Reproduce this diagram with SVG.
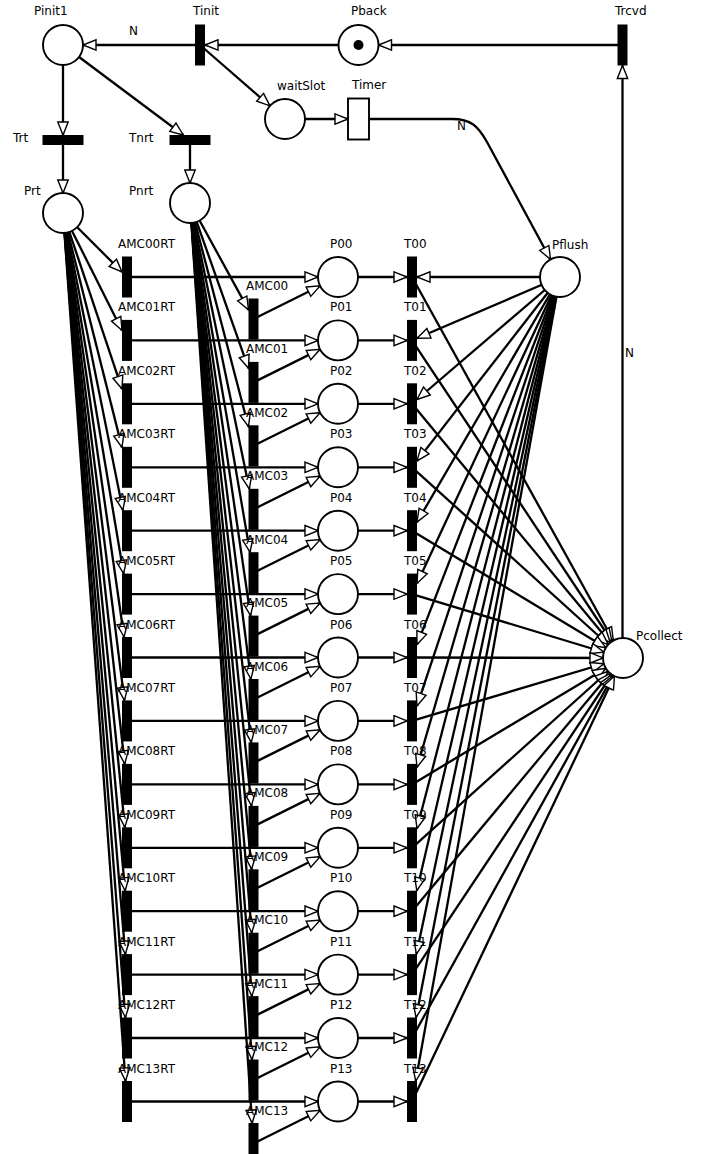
<svg xmlns="http://www.w3.org/2000/svg" width="711" height="1154" viewBox="0 0 711 1154">
<style>
.arc{stroke:#000;stroke-width:2.3;fill:none}
.a{marker-end:url(#tip)}
.c{marker-end:url(#circ)}
.pl{fill:#fff;stroke:#000;stroke-width:1.9}
.tr{fill:#000}
.tm{fill:#fff;stroke:#000;stroke-width:1.9}
text{font-family:"DejaVu Sans","Liberation Sans",sans-serif;font-size:12px;fill:#000}
</style>
<defs>
<marker id="tip" markerUnits="userSpaceOnUse" viewBox="0 0 16 14" markerWidth="16" markerHeight="14" refX="14.5" refY="7" orient="auto" overflow="visible">
<path d="M1.5,1.8 L14.5,7 L1.5,12.2 Z" fill="#fff" stroke="#000" stroke-width="1.4"/>
</marker>
<marker id="circ" markerUnits="userSpaceOnUse" viewBox="0 0 36 14" markerWidth="36" markerHeight="14" refX="34.5" refY="7" orient="auto" overflow="visible">
<path d="M1.5,1.8 L14.5,7 L1.5,12.2 Z" fill="#fff" stroke="#000" stroke-width="1.4"/>
</marker>
</defs>
<rect x="0" y="0" width="711" height="1154" fill="#fff"/>
<g id="connectors" class="arc">
<line class="c" x1="200" y1="45" x2="63" y2="45"/>
<line class="a" x1="358.5" y1="45" x2="205" y2="45"/>
<line class="c" x1="622.5" y1="45" x2="358.5" y2="45"/>
<line class="c" x1="200" y1="45" x2="285" y2="119"/>
<line class="a" x1="285" y1="119" x2="348" y2="119"/>
<path class="c" d="M358.5,119 H452 C471,119 478,126 487,142 L560,277"/>
<line class="a" x1="63" y1="45" x2="63" y2="135"/>
<line class="a" x1="63" y1="45" x2="183.3" y2="135"/>
<line class="c" x1="63" y1="140" x2="63" y2="213"/>
<line class="c" x1="190" y1="140" x2="190" y2="203"/>
<line class="a" x1="622.5" y1="658" x2="622.5" y2="65.5"/>
<line class="a" x1="560" y1="277" x2="417" y2="277"/>
<line class="a" x1="560" y1="277" x2="417" y2="338.3"/>
<line class="a" x1="560" y1="277" x2="417" y2="399.5"/>
<line class="a" x1="560" y1="277" x2="417" y2="460.9"/>
<line class="a" x1="560" y1="277" x2="417" y2="522.1"/>
<line class="a" x1="560" y1="277" x2="417" y2="583.4"/>
<line class="a" x1="560" y1="277" x2="417" y2="644.6"/>
<line class="a" x1="560" y1="277" x2="417" y2="705.9"/>
<line class="a" x1="560" y1="277" x2="417" y2="767.3"/>
<line class="a" x1="560" y1="277" x2="417" y2="828.5"/>
<line class="a" x1="560" y1="277" x2="416.8" y2="890.7"/>
<line class="a" x1="560" y1="277" x2="416.4" y2="954.1"/>
<line class="a" x1="560" y1="277" x2="416" y2="1017.5"/>
<line class="a" x1="560" y1="277" x2="415.7" y2="1081"/>
<line class="c" x1="412" y1="277" x2="623" y2="658"/>
<line class="c" x1="412" y1="340.4" x2="623" y2="658"/>
<line class="c" x1="412" y1="403.8" x2="623" y2="658"/>
<line class="c" x1="412" y1="467.3" x2="623" y2="658"/>
<line class="c" x1="412" y1="530.7" x2="623" y2="658"/>
<line class="c" x1="412" y1="594.1" x2="623" y2="658"/>
<line class="c" x1="412" y1="657.5" x2="623" y2="658"/>
<line class="c" x1="412" y1="720.9" x2="623" y2="658"/>
<line class="c" x1="412" y1="784.4" x2="623" y2="658"/>
<line class="c" x1="412" y1="847.8" x2="623" y2="658"/>
<line class="c" x1="412" y1="911.2" x2="623" y2="658"/>
<line class="c" x1="412" y1="974.6" x2="623" y2="658"/>
<line class="c" x1="412" y1="1038" x2="623" y2="658"/>
<line class="c" x1="412" y1="1101.5" x2="623" y2="658"/>
<line class="a" x1="63" y1="213" x2="122" y2="272"/>
<line class="a" x1="63" y1="213" x2="122" y2="330.4"/>
<line class="a" x1="63" y1="213" x2="122" y2="388.9"/>
<line class="a" x1="63" y1="213" x2="122" y2="447.4"/>
<line class="a" x1="63" y1="213" x2="122.9" y2="510.2"/>
<line class="a" x1="63" y1="213" x2="123.6" y2="573.6"/>
<line class="a" x1="63" y1="213" x2="124.1" y2="637"/>
<line class="a" x1="63" y1="213" x2="124.4" y2="700.4"/>
<line class="a" x1="63" y1="213" x2="124.7" y2="763.9"/>
<line class="a" x1="63" y1="213" x2="124.9" y2="827.3"/>
<line class="a" x1="63" y1="213" x2="125.1" y2="890.7"/>
<line class="a" x1="63" y1="213" x2="125.3" y2="954.1"/>
<line class="a" x1="63" y1="213" x2="125.4" y2="1017.5"/>
<line class="a" x1="63" y1="213" x2="125.5" y2="1081"/>
<line class="a" x1="190" y1="203" x2="248.5" y2="309.9"/>
<line class="a" x1="190" y1="203" x2="248.5" y2="368.3"/>
<line class="a" x1="190" y1="203" x2="248.5" y2="426.7"/>
<line class="a" x1="190" y1="203" x2="249.3" y2="488.8"/>
<line class="a" x1="190" y1="203" x2="250" y2="552.2"/>
<line class="a" x1="190" y1="203" x2="250.5" y2="615.6"/>
<line class="a" x1="190" y1="203" x2="250.9" y2="679"/>
<line class="a" x1="190" y1="203" x2="251.2" y2="742.4"/>
<line class="a" x1="190" y1="203" x2="251.4" y2="805.9"/>
<line class="a" x1="190" y1="203" x2="251.6" y2="869.3"/>
<line class="a" x1="190" y1="203" x2="251.8" y2="932.7"/>
<line class="a" x1="190" y1="203" x2="251.9" y2="996.1"/>
<line class="a" x1="190" y1="203" x2="252" y2="1059.5"/>
<line class="a" x1="190" y1="203" x2="252.1" y2="1123"/>
<line class="c" x1="127" y1="277" x2="338" y2="277"/>
<line class="c" x1="127" y1="340.4" x2="338" y2="340.4"/>
<line class="c" x1="127" y1="403.8" x2="338" y2="403.8"/>
<line class="c" x1="127" y1="467.3" x2="338" y2="467.3"/>
<line class="c" x1="127" y1="530.7" x2="338" y2="530.7"/>
<line class="c" x1="127" y1="594.1" x2="338" y2="594.1"/>
<line class="c" x1="127" y1="657.5" x2="338" y2="657.5"/>
<line class="c" x1="127" y1="720.9" x2="338" y2="720.9"/>
<line class="c" x1="127" y1="784.4" x2="338" y2="784.4"/>
<line class="c" x1="127" y1="847.8" x2="338" y2="847.8"/>
<line class="c" x1="127" y1="911.2" x2="338" y2="911.2"/>
<line class="c" x1="127" y1="974.6" x2="338" y2="974.6"/>
<line class="c" x1="127" y1="1038" x2="338" y2="1038"/>
<line class="c" x1="127" y1="1101.5" x2="338" y2="1101.5"/>
<line class="c" x1="253.5" y1="319" x2="338" y2="277"/>
<line class="c" x1="253.5" y1="382.4" x2="338" y2="340.4"/>
<line class="c" x1="253.5" y1="445.8" x2="338" y2="403.8"/>
<line class="c" x1="253.5" y1="509.3" x2="338" y2="467.3"/>
<line class="c" x1="253.5" y1="572.7" x2="338" y2="530.7"/>
<line class="c" x1="253.5" y1="636.1" x2="338" y2="594.1"/>
<line class="c" x1="253.5" y1="699.5" x2="338" y2="657.5"/>
<line class="c" x1="253.5" y1="762.9" x2="338" y2="720.9"/>
<line class="c" x1="253.5" y1="826.4" x2="338" y2="784.4"/>
<line class="c" x1="253.5" y1="889.8" x2="338" y2="847.8"/>
<line class="c" x1="253.5" y1="953.2" x2="338" y2="911.2"/>
<line class="c" x1="253.5" y1="1016.6" x2="338" y2="974.6"/>
<line class="c" x1="253.5" y1="1080" x2="338" y2="1038"/>
<line class="c" x1="253.5" y1="1143.5" x2="338" y2="1101.5"/>
<line class="a" x1="338" y1="277" x2="407" y2="277"/>
<line class="a" x1="338" y1="340.4" x2="407" y2="340.4"/>
<line class="a" x1="338" y1="403.8" x2="407" y2="403.8"/>
<line class="a" x1="338" y1="467.3" x2="407" y2="467.3"/>
<line class="a" x1="338" y1="530.7" x2="407" y2="530.7"/>
<line class="a" x1="338" y1="594.1" x2="407" y2="594.1"/>
<line class="a" x1="338" y1="657.5" x2="407" y2="657.5"/>
<line class="a" x1="338" y1="720.9" x2="407" y2="720.9"/>
<line class="a" x1="338" y1="784.4" x2="407" y2="784.4"/>
<line class="a" x1="338" y1="847.8" x2="407" y2="847.8"/>
<line class="a" x1="338" y1="911.2" x2="407" y2="911.2"/>
<line class="a" x1="338" y1="974.6" x2="407" y2="974.6"/>
<line class="a" x1="338" y1="1038" x2="407" y2="1038"/>
<line class="a" x1="338" y1="1101.5" x2="407" y2="1101.5"/>
</g>
<g id="arc-labels">
<text x="129" y="35">N</text>
<text x="457" y="130">N</text>
<text x="625" y="357">N</text>
</g>
<g id="Pinit1"><circle class="pl" cx="63" cy="45" r="20"/><text x="34" y="15">Pinit1</text></g>
<g id="Tinit"><rect class="tr" x="195" y="24.5" width="10" height="41"/><text x="193" y="15">Tinit</text></g>
<g id="Pback"><circle class="pl" cx="358.5" cy="45" r="20"/><circle cx="358.5" cy="45" r="5" fill="#000"/><text x="351" y="15">Pback</text></g>
<g id="Trcvd"><rect class="tr" x="617.5" y="24.5" width="10" height="41"/><text x="615" y="15">Trcvd</text></g>
<g id="waitSlot"><circle class="pl" cx="285" cy="119" r="20"/><text x="277" y="90">waitSlot</text></g>
<g id="Timer"><rect class="tm" x="348" y="98.5" width="21" height="41"/><text x="352" y="89">Timer</text></g>
<g id="Trt"><rect class="tr" x="42.5" y="135" width="41" height="10"/><text x="13" y="142">Trt</text></g>
<g id="Tnrt"><rect class="tr" x="169.5" y="135" width="41" height="10"/><text x="129" y="142">Tnrt</text></g>
<g id="Prt"><circle class="pl" cx="63" cy="213" r="20"/><text x="24" y="195">Prt</text></g>
<g id="Pnrt"><circle class="pl" cx="190" cy="203" r="20"/><text x="129" y="195">Pnrt</text></g>
<g id="Pflush"><circle class="pl" cx="560" cy="277" r="20"/><text x="552" y="249">Pflush</text></g>
<g id="Pcollect"><circle class="pl" cx="623" cy="658" r="20"/><text x="636" y="640">Pcollect</text></g>
<g id="AMC00RT"><rect class="tr" x="122" y="256.5" width="10" height="41"/><text x="118" y="248">AMC00RT</text></g>
<g id="AMC01RT"><rect class="tr" x="122" y="319.9" width="10" height="41"/><text x="118" y="311.4">AMC01RT</text></g>
<g id="AMC02RT"><rect class="tr" x="122" y="383.3" width="10" height="41"/><text x="118" y="374.8">AMC02RT</text></g>
<g id="AMC03RT"><rect class="tr" x="122" y="446.8" width="10" height="41"/><text x="118" y="438.3">AMC03RT</text></g>
<g id="AMC04RT"><rect class="tr" x="122" y="510.2" width="10" height="41"/><text x="118" y="501.7">AMC04RT</text></g>
<g id="AMC05RT"><rect class="tr" x="122" y="573.6" width="10" height="41"/><text x="118" y="565.1">AMC05RT</text></g>
<g id="AMC06RT"><rect class="tr" x="122" y="637" width="10" height="41"/><text x="118" y="628.5">AMC06RT</text></g>
<g id="AMC07RT"><rect class="tr" x="122" y="700.4" width="10" height="41"/><text x="118" y="691.9">AMC07RT</text></g>
<g id="AMC08RT"><rect class="tr" x="122" y="763.9" width="10" height="41"/><text x="118" y="755.4">AMC08RT</text></g>
<g id="AMC09RT"><rect class="tr" x="122" y="827.3" width="10" height="41"/><text x="118" y="818.8">AMC09RT</text></g>
<g id="AMC10RT"><rect class="tr" x="122" y="890.7" width="10" height="41"/><text x="118" y="882.2">AMC10RT</text></g>
<g id="AMC11RT"><rect class="tr" x="122" y="954.1" width="10" height="41"/><text x="118" y="945.6">AMC11RT</text></g>
<g id="AMC12RT"><rect class="tr" x="122" y="1017.5" width="10" height="41"/><text x="118" y="1009">AMC12RT</text></g>
<g id="AMC13RT"><rect class="tr" x="122" y="1081" width="10" height="41"/><text x="118" y="1072.5">AMC13RT</text></g>
<g id="AMC00"><rect class="tr" x="248.5" y="298.5" width="10" height="41"/><text x="246" y="290">AMC00</text></g>
<g id="AMC01"><rect class="tr" x="248.5" y="361.9" width="10" height="41"/><text x="246" y="353.4">AMC01</text></g>
<g id="AMC02"><rect class="tr" x="248.5" y="425.3" width="10" height="41"/><text x="246" y="416.8">AMC02</text></g>
<g id="AMC03"><rect class="tr" x="248.5" y="488.8" width="10" height="41"/><text x="246" y="480.3">AMC03</text></g>
<g id="AMC04"><rect class="tr" x="248.5" y="552.2" width="10" height="41"/><text x="246" y="543.7">AMC04</text></g>
<g id="AMC05"><rect class="tr" x="248.5" y="615.6" width="10" height="41"/><text x="246" y="607.1">AMC05</text></g>
<g id="AMC06"><rect class="tr" x="248.5" y="679" width="10" height="41"/><text x="246" y="670.5">AMC06</text></g>
<g id="AMC07"><rect class="tr" x="248.5" y="742.4" width="10" height="41"/><text x="246" y="733.9">AMC07</text></g>
<g id="AMC08"><rect class="tr" x="248.5" y="805.9" width="10" height="41"/><text x="246" y="797.4">AMC08</text></g>
<g id="AMC09"><rect class="tr" x="248.5" y="869.3" width="10" height="41"/><text x="246" y="860.8">AMC09</text></g>
<g id="AMC10"><rect class="tr" x="248.5" y="932.7" width="10" height="41"/><text x="246" y="924.2">AMC10</text></g>
<g id="AMC11"><rect class="tr" x="248.5" y="996.1" width="10" height="41"/><text x="246" y="987.6">AMC11</text></g>
<g id="AMC12"><rect class="tr" x="248.5" y="1059.5" width="10" height="41"/><text x="246" y="1051">AMC12</text></g>
<g id="AMC13"><rect class="tr" x="248.5" y="1123" width="10" height="41"/><text x="246" y="1114.5">AMC13</text></g>
<g id="P00"><circle class="pl" cx="338" cy="277" r="20"/><text x="330" y="248">P00</text></g>
<g id="P01"><circle class="pl" cx="338" cy="340.4" r="20"/><text x="330" y="311.4">P01</text></g>
<g id="P02"><circle class="pl" cx="338" cy="403.8" r="20"/><text x="330" y="374.8">P02</text></g>
<g id="P03"><circle class="pl" cx="338" cy="467.3" r="20"/><text x="330" y="438.3">P03</text></g>
<g id="P04"><circle class="pl" cx="338" cy="530.7" r="20"/><text x="330" y="501.7">P04</text></g>
<g id="P05"><circle class="pl" cx="338" cy="594.1" r="20"/><text x="330" y="565.1">P05</text></g>
<g id="P06"><circle class="pl" cx="338" cy="657.5" r="20"/><text x="330" y="628.5">P06</text></g>
<g id="P07"><circle class="pl" cx="338" cy="720.9" r="20"/><text x="330" y="691.9">P07</text></g>
<g id="P08"><circle class="pl" cx="338" cy="784.4" r="20"/><text x="330" y="755.4">P08</text></g>
<g id="P09"><circle class="pl" cx="338" cy="847.8" r="20"/><text x="330" y="818.8">P09</text></g>
<g id="P10"><circle class="pl" cx="338" cy="911.2" r="20"/><text x="330" y="882.2">P10</text></g>
<g id="P11"><circle class="pl" cx="338" cy="974.6" r="20"/><text x="330" y="945.6">P11</text></g>
<g id="P12"><circle class="pl" cx="338" cy="1038" r="20"/><text x="330" y="1009">P12</text></g>
<g id="P13"><circle class="pl" cx="338" cy="1101.5" r="20"/><text x="330" y="1072.5">P13</text></g>
<g id="T00"><rect class="tr" x="407" y="256.5" width="10" height="41"/><text x="404" y="248">T00</text></g>
<g id="T01"><rect class="tr" x="407" y="319.9" width="10" height="41"/><text x="404" y="311.4">T01</text></g>
<g id="T02"><rect class="tr" x="407" y="383.3" width="10" height="41"/><text x="404" y="374.8">T02</text></g>
<g id="T03"><rect class="tr" x="407" y="446.8" width="10" height="41"/><text x="404" y="438.3">T03</text></g>
<g id="T04"><rect class="tr" x="407" y="510.2" width="10" height="41"/><text x="404" y="501.7">T04</text></g>
<g id="T05"><rect class="tr" x="407" y="573.6" width="10" height="41"/><text x="404" y="565.1">T05</text></g>
<g id="T06"><rect class="tr" x="407" y="637" width="10" height="41"/><text x="404" y="628.5">T06</text></g>
<g id="T07"><rect class="tr" x="407" y="700.4" width="10" height="41"/><text x="404" y="691.9">T07</text></g>
<g id="T08"><rect class="tr" x="407" y="763.9" width="10" height="41"/><text x="404" y="755.4">T08</text></g>
<g id="T09"><rect class="tr" x="407" y="827.3" width="10" height="41"/><text x="404" y="818.8">T09</text></g>
<g id="T10"><rect class="tr" x="407" y="890.7" width="10" height="41"/><text x="404" y="882.2">T10</text></g>
<g id="T11"><rect class="tr" x="407" y="954.1" width="10" height="41"/><text x="404" y="945.6">T11</text></g>
<g id="T12"><rect class="tr" x="407" y="1017.5" width="10" height="41"/><text x="404" y="1009">T12</text></g>
<g id="T13"><rect class="tr" x="407" y="1081" width="10" height="41"/><text x="404" y="1072.5">T13</text></g>
</svg>
